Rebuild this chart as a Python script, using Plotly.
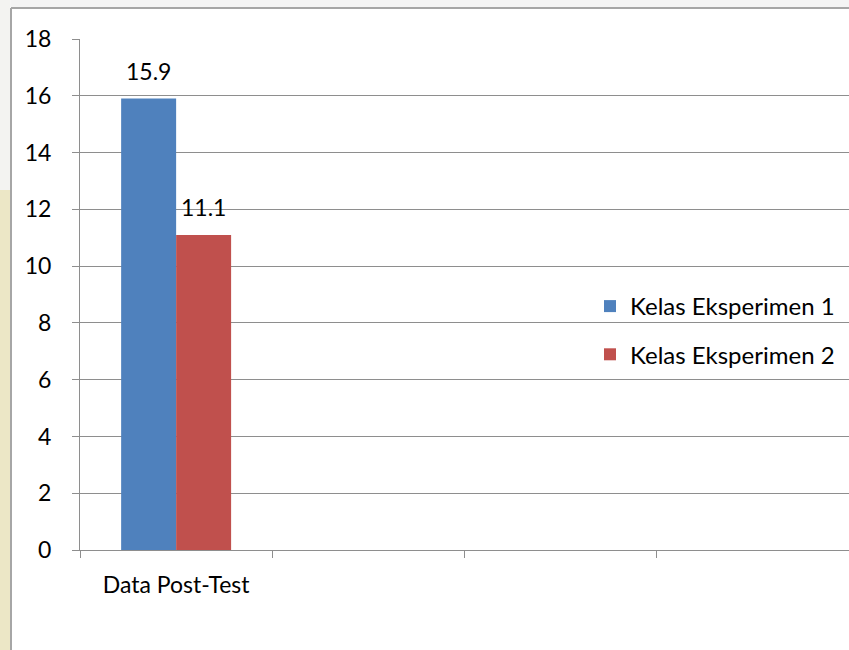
import plotly.graph_objects as go

# Categories along the x axis (only the first one carries data)
categories = ["Data Post-Test", " ", "  ", "   "]
series_names = ["Kelas Eksperimen 1", "Kelas Eksperimen 2"]
eksperimen_1 = [15.9, None, None, None]
eksperimen_2 = [11.1, None, None, None]
colors = ["#4f81bd", "#c0504d"]

W, H = 849, 650
FONT = "Lato"
FS = 23
GRID = "#8e8e8e"

# Plot area in pixels
PL, PT, PB = 80, 39, 550
PW, PH = W - PL, PB - PT


def px(x):
    return (x - PL) / PW


def py(y):
    return (PB - y) / PH


fig = go.Figure()
for i, (name, vals) in enumerate(zip(series_names, [eksperimen_1, eksperimen_2])):
    fig.add_trace(go.Bar(
        x=categories, y=vals, name=name,
        marker=dict(color=colors[i], line=dict(width=0)),
        legendgroup=name,
        hoverinfo="skip",
    ))

# Value labels above each bar
for i, vals in enumerate([eksperimen_1, eksperimen_2]):
    for c, v in zip(categories, vals):
        if v is None:
            continue
        fig.add_annotation(
            x=c, y=v, xref="x", yref="y",
            text=f"{v:.1f}", showarrow=False,
            xshift=(-27.5 if i == 0 else 27.5),
            yanchor="bottom", yshift=12,
            font=dict(family=FONT, size=FS, color="#000000"),
        )

# Page edge: scanned strip on the left and frame border
fig.add_shape(type="rect", xref="paper", yref="paper", x0=px(-5), x1=px(10.5),
              y0=py(660), y1=py(190), fillcolor="#ece7c6", line=dict(width=0), layer="below")
fig.add_shape(type="rect", xref="paper", yref="paper", x0=px(-5), x1=px(10.5),
              y0=py(190), y1=py(-5), fillcolor="#f3f3f1", line=dict(width=0), layer="below")
fig.add_shape(type="rect", xref="paper", yref="paper", x0=px(10.5), x1=px(860),
              y0=py(7), y1=py(-5), fillcolor="#f4f4f4", line=dict(width=0), layer="below")
fig.add_shape(type="line", xref="paper", yref="paper", x0=px(11), x1=px(11),
              y0=py(655), y1=py(8), line=dict(color="#a6a6a6", width=2))
fig.add_shape(type="line", xref="paper", yref="paper", x0=px(11), x1=px(855),
              y0=py(8), y1=py(8), line=dict(color="#a6a6a6", width=2))

fig.update_layout(
    width=W, height=H,
    margin=dict(l=PL, r=0, t=PT, b=H - PB, autoexpand=False),
    paper_bgcolor="#ffffff", plot_bgcolor="#ffffff",
    barmode="group", bargap=0.428, bargroupgap=0,
    font=dict(family=FONT, size=FS, color="#000000"),
    showlegend=True,
    legend=dict(
        x=px(590), y=py(284), xanchor="left", yanchor="top",
        font=dict(family=FONT, size=24, color="#000000"),
        tracegroupgap=14, bgcolor="rgba(0,0,0,0)",
        itemwidth=30,
    ),
    xaxis=dict(
        type="category", range=[-0.5, 3.5], automargin=False,
        showgrid=False, showline=True, linecolor=GRID, linewidth=1,
        ticks="outside", tickson="boundaries", ticklen=7, tickcolor=GRID,
        tickfont=dict(family=FONT, size=FS, color="#000000"),
        ticklabelstandoff=14,
    ),
    yaxis=dict(
        range=[0, 18], dtick=2, tick0=0, automargin=False,
        showgrid=True, gridcolor=GRID, gridwidth=1,
        showline=True, linecolor=GRID, linewidth=1,
        ticks="outside", ticklen=7, tickcolor=GRID,
        tickfont=dict(family=FONT, size=FS, color="#000000"),
        ticklabelstandoff=16, zeroline=False,
    ),
)

fig.write_html("out.html")
